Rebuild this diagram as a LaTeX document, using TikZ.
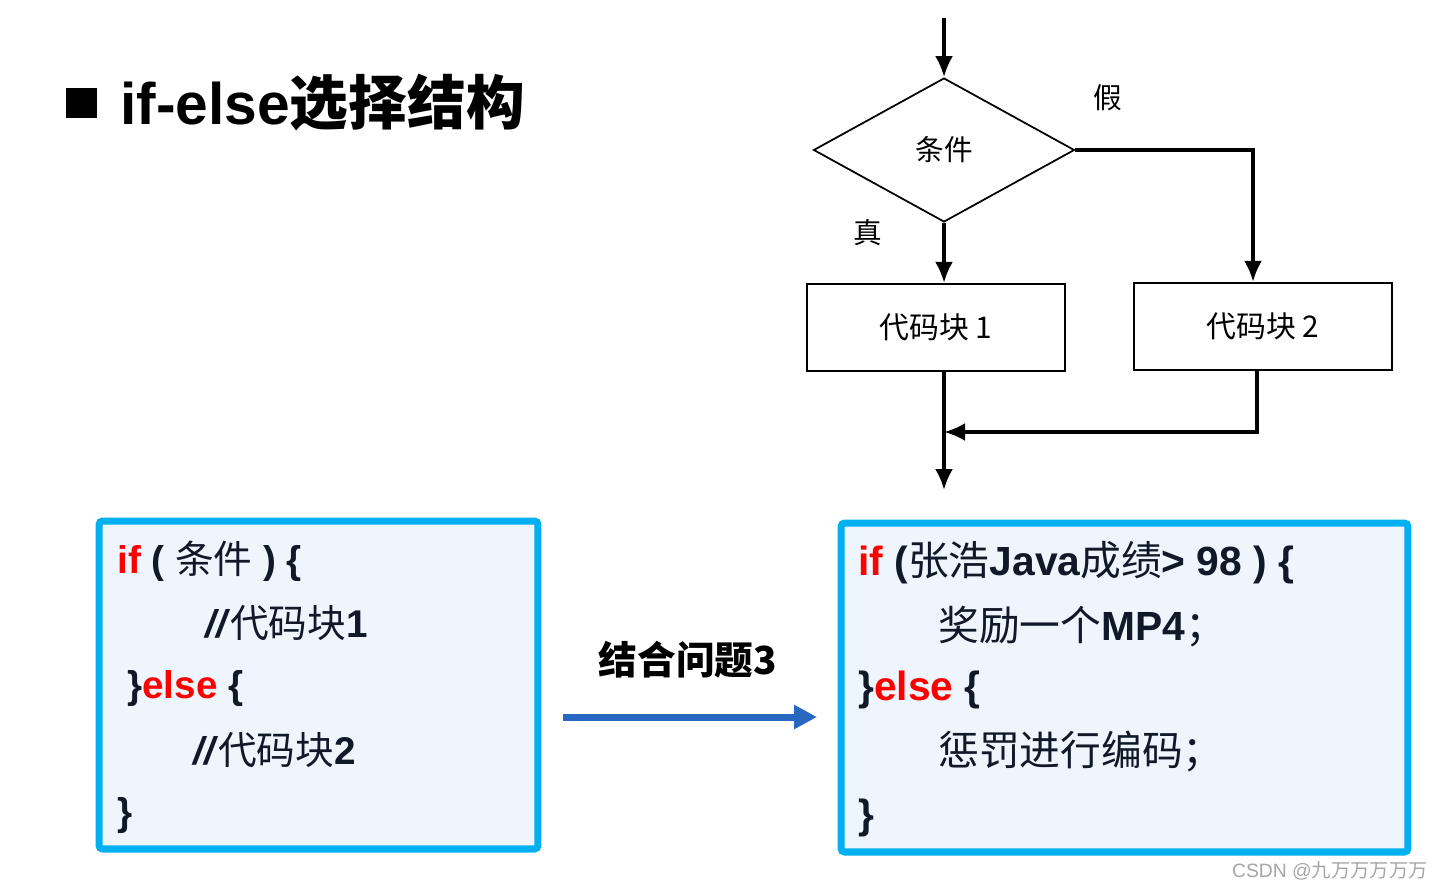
\documentclass[tikz,border=0pt]{standalone}
\usepackage{fontspec}
\setmainfont{Liberation Sans}
\newfontfamily\cjk{Noto Sans CJK SC}
\usetikzlibrary{arrows.meta,shapes.geometric,positioning}

\definecolor{boxcyan}{RGB}{0,176,240}
\definecolor{boxfill}{RGB}{238,245,252}
\definecolor{kwred}{RGB}{255,0,0}
\definecolor{arrowblue}{RGB}{40,104,192}
\definecolor{codeink}{RGB}{15,25,40}

\newcommand{\zh}[1]{{\cjk\mdseries #1}}
\newcommand{\kw}[1]{\textcolor{kwred}{#1}}

\tikzset{
  flowbox/.style={draw, line width=1.3pt, minimum width=5.16cm, minimum height=1.74cm,
    font=\cjk\fontsize{17}{20}\selectfont},
  decision/.style={draw, diamond, line width=1pt, minimum width=5.22cm, minimum height=2.88cm,
    inner sep=0pt, font=\cjk\fontsize{16.3}{19}\selectfont},
  flowarrow/.style={line width=2pt, -{Latex[length=4.2mm,width=3.6mm]}},
  flowlabel/.style={font=\cjk\fontsize{16.3}{19}\selectfont},
  codebox/.style={draw=boxcyan, fill=boxfill, line width=4pt, rounded corners=2pt},
  codeline/.style={anchor=west, inner sep=0pt, text=codeink, font=\bfseries},
}

\begin{document}
\begin{tikzpicture}[x=0.02cm, y=-0.02cm]
  \useasboundingbox (0,0) rectangle (1449,890);

  % title
  \fill (66,88) rectangle (97,118);
  \node[anchor=west, inner sep=0pt, font=\fontsize{33.4}{38}\selectfont\bfseries] (title) at (120,103)
    {if-else{\cjk 选择结构}};

  % flow chart
  \node[decision] (cond) at (944,150) {条件};
  \node[flowbox] (blk1) at (936,327.5) {代码块 1};
  \node[flowbox] (blk2) at (1263,326.5) {代码块 2};
  \node[flowlabel] (no) at (1108,98) {假};
  \node[flowlabel] (yes) at (868,233) {真};
  \coordinate (start) at (cond.north |- 0,18);
  \coordinate (join) at (cond.south |- 0,432);
  \coordinate (exit) at (cond.south |- 0,490);
  \draw[flowarrow] (start) -- (cond.north);
  \draw[flowarrow] (cond.south) -- (cond.south |- blk1.north);
  \draw[flowarrow] (cond.east) -| ([xshift=-0.2cm]blk2.north);
  \draw[flowarrow] (cond.south |- blk1.south) -- (exit);
  \draw[flowarrow] ([xshift=-0.12cm]blk2.south) |- (join);

  % code boxes
  \node[codebox, minimum width=8.78cm, minimum height=6.56cm] (codeL) at (318.5,685) {};
  \node[codebox, minimum width=11.34cm, minimum height=6.58cm] (codeR) at (1124.5,687.5) {};

  \begin{scope}[every node/.style={codeline, font=\fontsize{22}{26}\selectfont\bfseries}]
    \node (l1) at (117,561) {\kw{if} ( \zh{条件} ) \{};
    \node (l2) at (205,623) {\textit{//}\zh{代码块}1};
    \node (l3) at (127,688) {\}\kw{else} \{};
    \node (l4) at (193,750) {\textit{//}\zh{代码块}2};
    \node (l5) at (117,815) {\}};
  \end{scope}

  \begin{scope}[every node/.style={codeline, font=\fontsize{23.2}{27}\selectfont\bfseries}]
    \node (r1) at (858,563) {\kw{if} (\zh{张浩}Java\zh{成绩}> 98 ) \{};
    \node (r2) at (938,627) {\zh{奖励一个}MP4\zh{；}};
    \node (r3) at (858,690) {\}\kw{else} \{};
    \node (r4) at (938,752) {\zh{惩罚进行编码；}};
    \node (r5) at (858,818) {\}};
  \end{scope}

  % link between the two boxes
  \node[font=\cjk\fontsize{22}{26}\selectfont\bfseries] (q3) at (688,660) {结合问题3};
  \coordinate (a1) at (563,717);
  \coordinate (a2) at (817,717);
  \draw[arrowblue, line width=4pt, -{Triangle[length=4.6mm,width=4.6mm]}] (a1) -- (a2);

  \node[anchor=east, text=black!35, font=\fontsize{11}{13}\selectfont] (mark) at (1434,871)
    {CSDN @\zh{九万万万万万}};
\end{tikzpicture}
\end{document}
